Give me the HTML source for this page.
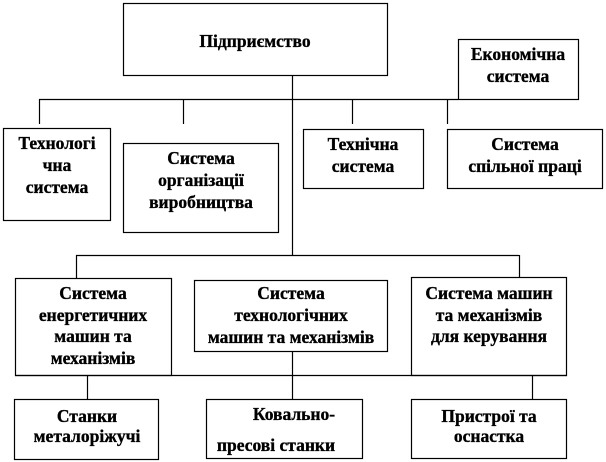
<!DOCTYPE html>
<html><head><meta charset="utf-8"><style>
html,body{margin:0;padding:0;background:#fff;}
svg{display:block;}
text{font-family:"Liberation Serif","Times New Roman","Noto Serif CJK SC",serif;font-weight:bold;font-size:17.5px;fill:#000;stroke:#000;stroke-width:0.35;text-anchor:middle;}
</style></head><body>
<svg width="606" height="462" viewBox="0 0 606 462" xmlns="http://www.w3.org/2000/svg">
<g fill="none" stroke="#000" stroke-width="1.2">
<rect x="123.5" y="3.5" width="264" height="72"/>
<rect x="458.5" y="39.5" width="120" height="60"/>
<line x1="39" y1="99.5" x2="458" y2="99.5"/>
<line x1="292.5" y1="75" x2="292.5" y2="255"/>
<line x1="39.5" y1="99" x2="39.5" y2="124"/>
<line x1="183.5" y1="99" x2="183.5" y2="124"/>
<line x1="352.5" y1="99" x2="352.5" y2="124"/>
<line x1="447.5" y1="99" x2="447.5" y2="124"/>
<rect x="3.5" y="128.5" width="107" height="92"/>
<rect x="123.5" y="143.5" width="155" height="89"/>
<rect x="303.5" y="129.5" width="120" height="59"/>
<rect x="447.5" y="129.5" width="155" height="59"/>
<line x1="76" y1="255.5" x2="519" y2="255.5"/>
<line x1="76.5" y1="255" x2="76.5" y2="278"/>
<line x1="519.5" y1="255" x2="519.5" y2="277"/>
<rect x="15.5" y="278.5" width="156" height="97"/>
<rect x="194.5" y="280.5" width="193" height="71"/>
<rect x="411.5" y="277.5" width="155" height="98"/>
<line x1="15" y1="375.5" x2="567" y2="375.5"/>
<line x1="87.5" y1="375" x2="87.5" y2="399"/>
<line x1="292.5" y1="351" x2="292.5" y2="399"/>
<line x1="532.5" y1="375" x2="532.5" y2="399"/>
<rect x="14.5" y="399.5" width="144" height="60"/>
<rect x="206.5" y="399.5" width="156" height="59"/>
<rect x="411.5" y="399.5" width="155" height="59"/>
</g>
<text x="255" y="47">Підприємство</text>
<text x="518" y="60">Економічна</text>
<text x="518" y="82">система</text>
<text x="57" y="149">Технологі</text>
<text x="57" y="171">чна</text>
<text x="57" y="193">система</text>
<text x="201" y="164">Система</text>
<text x="201" y="186">організації</text>
<text x="201" y="208">виробництва</text>
<text x="363" y="150">Технічна</text>
<text x="363" y="172">система</text>
<text x="525" y="150">Система</text>
<text x="525" y="172">спільної праці</text>
<text x="93" y="299">Система</text>
<text x="93" y="321">енергетичних</text>
<text x="93" y="342">машин та</text>
<text x="93" y="364">механізмів</text>
<text x="291" y="299">Система</text>
<text x="291" y="321">технологічних</text>
<text x="291" y="343">машин та механізмів</text>
<text x="489" y="299">Система машин</text>
<text x="489" y="321">та механізмів</text>
<text x="489" y="342">для керування</text>
<text x="87" y="422">Станки</text>
<text x="87" y="442">металоріжучі</text>
<text x="294" y="420">Ковально-</text>
<text x="276" y="451">пресові станки</text>
<text x="489" y="422">Пристрої та</text>
<text x="489" y="442">оснастка</text>
</svg>
</body></html>
